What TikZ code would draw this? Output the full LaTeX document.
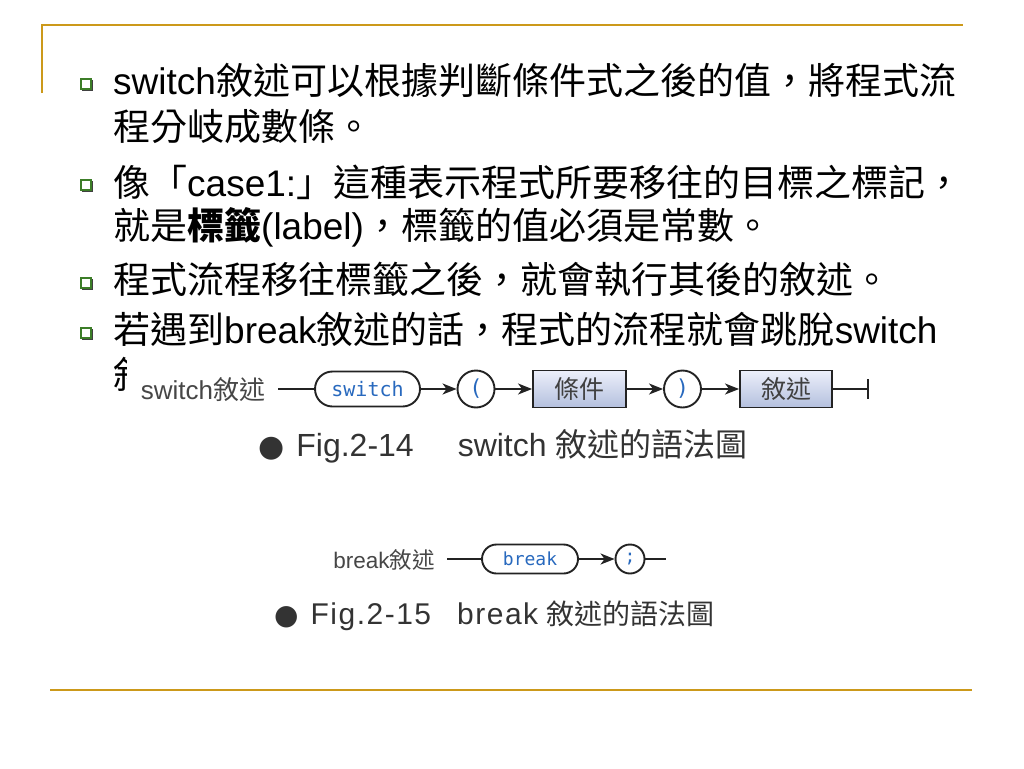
\documentclass[tikz,border=0pt]{standalone}
\usepackage{fontspec}
\setmainfont{Liberation Sans}
\newfontfamily\cjk{Noto Sans CJK TC}
\newfontfamily\dejavu{DejaVu Sans}
\newfontfamily\monof{DejaVu Sans Mono}
\newfontfamily\spacedsans[LetterSpace=5]{Liberation Sans}
\usetikzlibrary{arrows.meta,shapes.misc,shadows}
\definecolor{gold}{RGB}{204,153,26}
\definecolor{bulletgreen}{RGB}{60,125,40}
\definecolor{kwblue}{RGB}{40,105,190}
\definecolor{diag}{RGB}{35,35,35}
\definecolor{labgray}{RGB}{70,70,70}
\definecolor{boxtop}{RGB}{236,239,250}
\definecolor{boxbot}{RGB}{180,192,222}
\tikzset{
  rule/.style={draw=gold, line width=2.2pt},
  body/.style={anchor=base west, inner sep=0pt, text=black, font=\fontsize{37}{44}\selectfont},
  bulletbox/.style={rectangle, draw=bulletgreen, line width=1.7pt, fill=white, minimum size=10.5pt, inner sep=0pt,
    drop shadow={shadow xshift=1.6pt, shadow yshift=-1.6pt, fill=black!75, opacity=1}},
  kw/.style={rounded rectangle, draw=diag, line width=1.9pt, fill=white, inner sep=0pt, text=kwblue},
  sym/.style={circle, draw=diag, line width=1.9pt, fill=white, inner sep=0pt, text=kwblue},
  term/.style={rectangle, draw=diag, line width=1.9pt, top color=boxtop, bottom color=boxbot, inner sep=0pt, text=black!75,
    font=\cjk\fontsize{25}{25}\selectfont},
  conn/.style={draw=diag, line width=1.9pt},
  arr/.style={conn, -{Stealth[length=14pt,width=11pt,inset=4pt]}},
  dlabel/.style={inner sep=0pt, text=labgray},
  caption/.style={anchor=west, inner sep=0pt, text=black!80},
}
\begin{document}
\begin{tikzpicture}[x=1pt,y=-1pt]
\useasboundingbox (0,0) rectangle (1024,768);
% frame rules
\coordinate (tl) at (42,25);
\coordinate (tr) at (963,25);
\coordinate (tv) at (42,93);
\coordinate (bl) at (50,690);
\coordinate (br) at (972,690);
\draw[rule] (tv) -- (tl) -- (tr);
\draw[rule] (bl) -- (br);
% bullets
\node[bulletbox] (bu1) at (86,84) {};
\node[bulletbox] (bu2) at (86,185) {};
\node[bulletbox] (bu3) at (86,283) {};
\node[bulletbox] (bu4) at (86,333) {};
% text
\node[body] (l1) at (113,94) {switch{\cjk 敘述可以根據判斷條件式之後的值，將程式流}};
\node[body] (l2) at (113,140) {\cjk 程分岐成數條。};
\node[body] (l3) at (113,196) {{\cjk 像「}case1:{\cjk 」這種表示程式所要移往的目標之標記，}};
\node[body] (l4) at (113,239) {{\cjk 就是}{\cjk\bfseries 標籤}(label){\cjk ，標籤的值必須是常數。}};
\node[body] (l5) at (113,293) {\cjk 程式流程移往標籤之後，就會執行其後的敘述。};
\node[body] (l6) at (113,343) {{\cjk 若遇到}break{\cjk 敘述的話，程式的流程就會跳脫}switch};
\begin{scope}
\clip (108,352) rectangle (126,398);
\node[body] (l7) at (113,388) {\rlap{\cjk 敘}};
\end{scope}
% switch syntax diagram
\node[dlabel, font=\fontsize{26}{26}\selectfont] (slab) at (203,390) {switch{\cjk 敘述}};
\coordinate (s0) at (278,389);
\node[kw, minimum width=105pt, minimum height=35pt, font=\monof\fontsize{20}{20}\selectfont] (kwsw) at (367.5,389) {switch};
\node[sym, minimum size=37pt, font=\monof\fontsize{22}{22}\selectfont] (lp) at (476,389) {(};
\node[term, minimum width=93pt, minimum height=37pt] (cond) at (579.5,389) {條件};
\node[sym, minimum size=37pt, font=\monof\fontsize{22}{22}\selectfont] (rp) at (682.5,389) {)};
\node[term, minimum width=92pt, minimum height=37pt] (stmt) at (786,389) {敘述};
\coordinate (s9) at (868,389);
\coordinate (s9a) at (868,379);
\coordinate (s9b) at (868,399);
\draw[conn] (s0) -- (kwsw.west);
\draw[arr] (kwsw.east) -- (lp.west);
\draw[arr] (lp.east) -- (cond.west);
\draw[arr] (cond.east) -- (rp.west);
\draw[arr] (rp.east) -- (stmt.west);
\draw[conn] (stmt.east) -- (s9);
\draw[conn] (s9a) -- (s9b);
\node[caption, font=\fontsize{32}{32}\selectfont] (cap1) at (258,446)
  {{\dejavu\fontsize{30}{30}\selectfont ●}\hspace{12pt}Fig.2-14\hspace{44pt}switch {\cjk 敘述的語法圖}};
% break syntax diagram
\node[dlabel, font=\fontsize{22.5}{22.5}\selectfont] (blab) at (384,560) {break{\cjk 敘述}};
\coordinate (b0) at (447,559);
\node[kw, minimum width=96pt, minimum height=29pt, font=\monof\fontsize{18}{18}\selectfont] (kwbr) at (530,559) {break};
\node[sym, minimum size=29pt, font=\monof\fontsize{18}{18}\selectfont] (semi) at (630,559) {;};
\coordinate (b9) at (666,559);
\draw[conn] (b0) -- (kwbr.west);
\draw[arr] (kwbr.east) -- (semi.west);
\draw[conn] (semi.east) -- (b9);
\node[caption, font=\fontsize{30}{30}\selectfont] (cap2) at (274,616)
  {{\dejavu\fontsize{28}{28}\selectfont ●}\hspace{12pt}{\spacedsans Fig.2-15}\hspace{26pt}{\spacedsans break} {\cjk\fontsize{28}{28}\selectfont 敘述的語法圖}};
\end{tikzpicture}
\end{document}
